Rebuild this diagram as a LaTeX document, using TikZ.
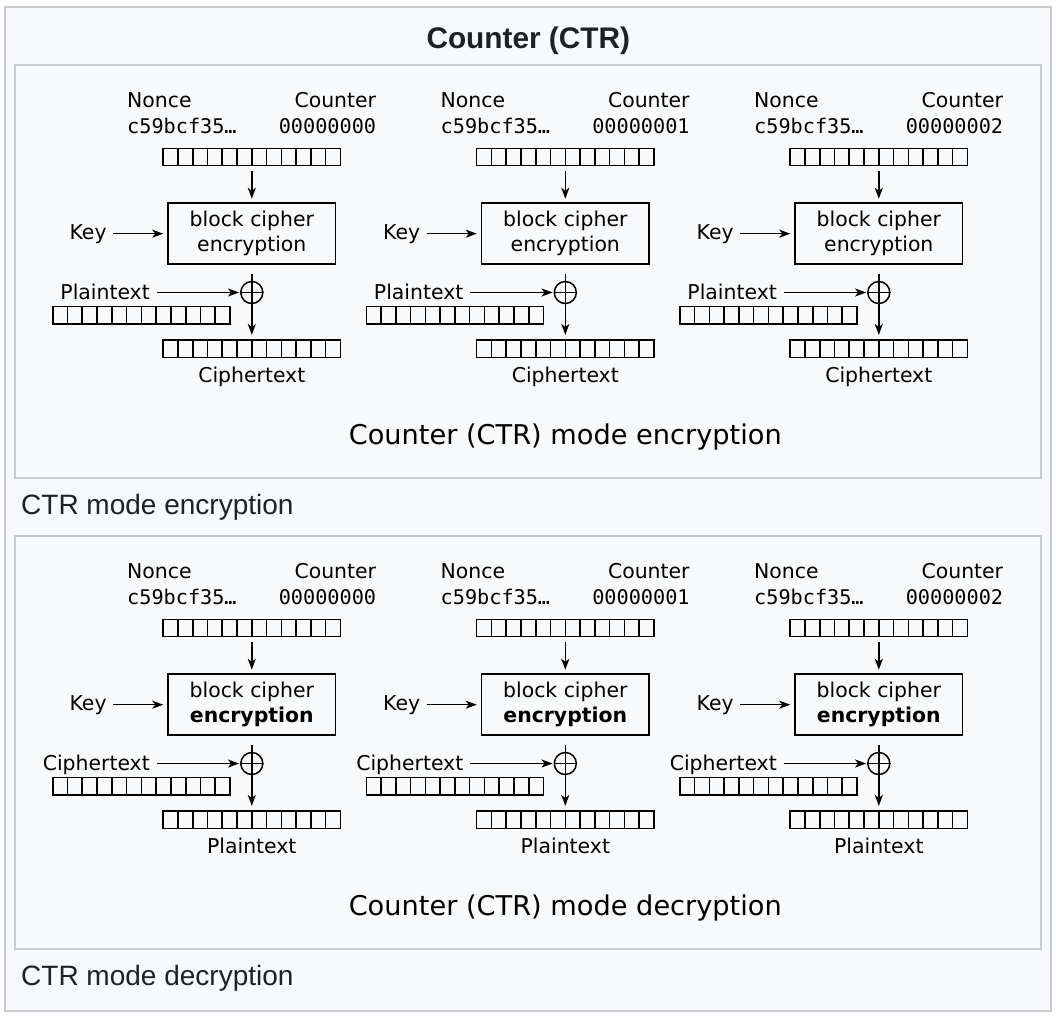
\documentclass[tikz,border=0pt]{standalone}
\usepackage{fontspec}
\setmainfont{DejaVu Sans}
\setmonofont{DejaVu Sans Mono}
\newfontfamily\wikifont{Liberation Sans}
\usetikzlibrary{calc}
\usetikzlibrary{arrows.meta}
\definecolor{wikibg}{HTML}{F8F9FA}
\definecolor{wikigray}{HTML}{C8CCD1}
\definecolor{wikitext}{HTML}{202122}

\begin{document}
\begin{tikzpicture}[x=1pt, y=-1pt]
	\tikzset{lbl/.style = {font=\fontsize{20.4}{25}\selectfont, inner sep=0pt}}
	\tikzset{mono/.style = {font=\ttfamily\fontsize{20.2}{25}\selectfont, inner sep=0pt}}
	\tikzset{register/.style = {draw, line width=1.5pt, minimum width=177.3pt, minimum height=17.4pt, inner sep=0pt,
		path picture={\foreach \k in {1,...,11} \draw[line width=1.6pt]
			($(path picture bounding box.south west)!\k/12!(path picture bounding box.south east)$) --
			($(path picture bounding box.north west)!\k/12!(path picture bounding box.north east)$);}}}
	\tikzset{cipher/.style = {draw, line width=1.5pt, minimum width=167.6pt, minimum height=61pt, inner sep=0pt, align=center, font=\fontsize{20.4}{25.2}\selectfont}}
	\tikzset{xorop/.style = {circle, draw, line width=1.5pt, minimum size=22pt, inner sep=0pt}}
	\tikzset{flow/.style = {line width=1.5pt, -{Stealth[length=11pt, width=8pt, inset=3pt]}}}
	\tikzset{frame/.style = {draw=wikigray, line width=2pt}}

%% Page and frames
\useasboundingbox[fill=white] (0,0) rectangle (1056,1018);
\draw[frame, fill=wikibg] (5,7) rectangle (1050.7,1011.3);
\draw[frame] (15,65) rectangle (1040.7,478.3);
\draw[frame] (15,536) rectangle (1040.7,949.3);

%% Title
\node[name = title, anchor=base, text=wikitext, font=\wikifont\bfseries\fontsize{29.8}{34}\selectfont, inner sep=0pt] at (528.3,48.7) {Counter (CTR)};

%% Panels: encryption, decryption
\foreach \pan/\src/\dst/\op/\mode in {0/Plaintext/Ciphertext/encryption/encryption, 1/Ciphertext/Plaintext/{\textbf{encryption}}/decryption}{
	\pgfmathsetmacro\ty{471*\pan}
	\node[name = mode-\pan, anchor=base, font=\fontsize{27.2}{32}\selectfont, inner sep=0pt] at (565.3,\ty+444.3) {Counter (CTR) mode \mode};
	\node[name = caption-\pan, anchor=base west, text=wikitext, font=\wikifont\fontsize{28}{32}\selectfont, inner sep=0pt] at (21,\ty+514.3) {CTR mode \mode};
	\foreach \col in {0,1,2}{
		\pgfmathsetmacro\cx{251.8+313.5*\col}
		%% Nonce and counter
		\node[lbl, anchor=base west, name = nonce-\pan-\col] at (\cx-124.8,\ty+107.7) {Nonce};
		\node[lbl, anchor=base east, name = counter-\pan-\col] at (\cx+124.5,\ty+107.7) {Counter};
		\node[mono, anchor=base west, name = nonceval-\pan-\col] at (\cx-124.8,\ty+133.3) {c59bcf35…};
		\node[mono, anchor=base east, name = counterval-\pan-\col] at (\cx+124.5,\ty+133.3) {0000000\col};
		\node[register, name = ctr-\pan-\col] at (\cx,\ty+157) {};
		%% Block cipher
		\node[cipher, name = box-\pan-\col] at (\cx,\ty+233.3) {block cipher\\\op};
		\node[lbl, anchor=base east, name = key-\pan-\col] at (\cx-145,\ty+239) {Key};
		%% XOR, input and output
		\node[xorop, name = xor-\pan-\col] at (\cx,\ty+292.5) {};
		\node[lbl, anchor=base east, name = src-\pan-\col] at (\cx-101.8,\ty+299) {\src};
		\node[register, name = in-\pan-\col] at (\cx-110.4,\ty+315.3) {};
		\node[register, name = out-\pan-\col] at (\cx,\ty+348.7) {};
		\node[lbl, anchor=base, name = dst-\pan-\col] at (\cx,\ty+382.5) {\dst};
		%% Edges
		\draw[flow, shorten <=4.3pt, shorten >=3.3pt] (ctr-\pan-\col.south) -- (box-\pan-\col.north);
		\draw[flow, shorten <=6.6pt, shorten >=4pt] (key-\pan-\col.east) -- (key-\pan-\col.east -| box-\pan-\col.west);
		\draw[flow, shorten <=9pt, shorten >=4.3pt] (box-\pan-\col.south) -- (out-\pan-\col.north);
		\draw[line width=1.5pt] (xor-\pan-\col.west) -- (xor-\pan-\col.east);
		\draw[flow, shorten <=6.7pt, shorten >=1pt] (src-\pan-\col.east |- xor-\pan-\col.west) -- (xor-\pan-\col.west);
	}
}

\end{tikzpicture}
\end{document}
